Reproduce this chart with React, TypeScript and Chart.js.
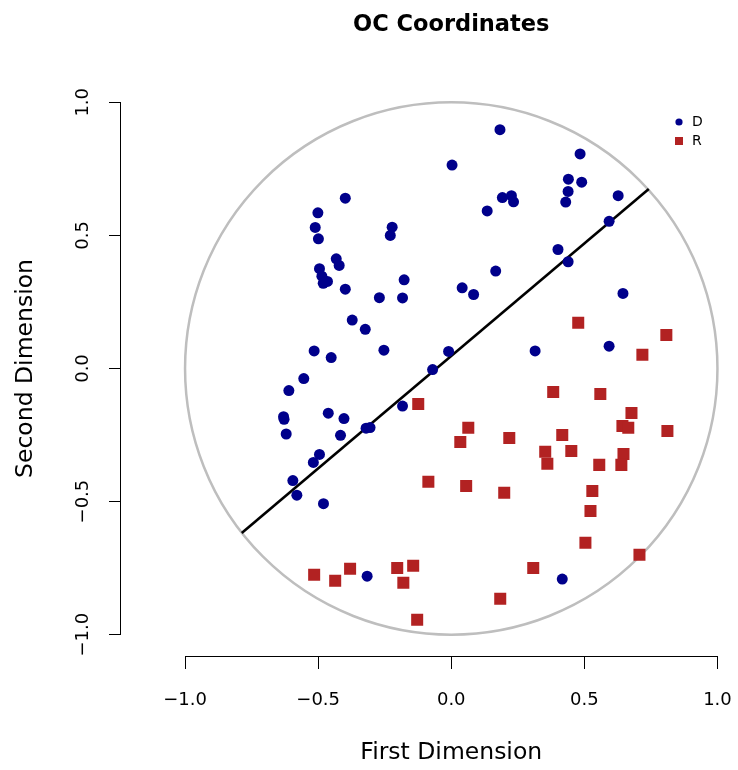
import { useEffect, useRef } from 'react';
import { Chart, registerables } from 'chart.js';

Chart.register(...registerables);

// ---- data ----
const D_X = [
  0.003, -0.398, -0.501, -0.511, -0.499, -0.222, -0.229, -0.432, -0.421, -0.495,
  -0.486, -0.481, -0.465, -0.398, -0.177, -0.270, -0.183, -0.372, -0.323, -0.253,
  -0.515, -0.451, -0.010, -0.070, -0.554, -0.610, -0.183, -0.630, -0.628, -0.462,
  -0.403, -0.620, -0.416, -0.320, -0.305, -0.495, -0.518, -0.595, -0.580, -0.480,
  0.183, 0.484, 0.440, 0.490, 0.439, 0.430, 0.192, 0.226, 0.234, 0.135,
  0.627, 0.593, 0.401, 0.439, 0.167, 0.041, 0.084, 0.645, 0.315, 0.593,
  0.417, -0.316,
];
const D_Y = [
  0.764, 0.640, 0.585, 0.530, 0.487, 0.531, 0.500, 0.412, 0.387, 0.375,
  0.347, 0.320, 0.327, 0.298, 0.333, 0.266, 0.265, 0.182, 0.147, 0.069,
  0.066, 0.041, 0.064, -0.004, -0.038, -0.083, -0.141, -0.181, -0.191, -0.168,
  -0.188, -0.246, -0.251, -0.224, -0.222, -0.323, -0.353, -0.421, -0.476, -0.508,
  0.897, 0.806, 0.711, 0.700, 0.665, 0.625, 0.642, 0.649, 0.626, 0.592,
  0.649, 0.553, 0.447, 0.401, 0.366, 0.303, 0.278, 0.282, 0.066, 0.084,
  -0.791, -0.780,
];
const R_X = [
  -0.124, -0.086, 0.477, 0.808, 0.718, 0.383, 0.560, 0.677, 0.643, 0.665,
  0.812, 0.064, 0.034, 0.218, 0.417, 0.353, 0.361, 0.451, 0.647, 0.556,
  0.639, 0.056, 0.199, 0.530, 0.523, 0.504, 0.707, 0.308, -0.515, -0.436,
  -0.380, -0.203, -0.143, -0.180, 0.184, -0.128,
];
const R_Y = [
  -0.133, -0.425, 0.172, 0.126, 0.052, -0.088, -0.096, -0.167, -0.216, -0.223,
  -0.235, -0.223, -0.276, -0.261, -0.250, -0.313, -0.358, -0.310, -0.321, -0.362,
  -0.362, -0.441, -0.467, -0.460, -0.535, -0.655, -0.700, -0.749, -0.775, -0.797,
  -0.752, -0.749, -0.741, -0.805, -0.865, -0.944,
];
const CUT_X = [-0.787, 0.742];
const CUT_Y = [-0.618, 0.674];
const X_TICKS = [-1, -0.5, 0, 0.5, 1];
const Y_TICKS = [-1, -0.5, 0, 0.5, 1];
const X_MIN = -1.2406; // left edge of the plot region (equal units with y)
const Y_MIN = -1.08;
const Y_MAX = 1.08;
const CIRCLE_R = 1;
const SERIES = ['D', 'R'];

const FONT = "'DejaVu Sans', 'Liberation Sans', sans-serif";
const BLUE = '#00008B';
const RED = '#B22222';

const fmt = (v: number) => (v < 0 ? '\u2212' : '') + Math.abs(v).toFixed(1);

const toPts = (xs: number[], ys: number[]) => xs.map((x, i) => ({ x, y: ys[i] }));

const decorPlugin = {
  id: 'decor',
  afterLayout(chart: any) {
    // equal aspect ratio: one x unit spans as many pixels as one y unit
    const x = chart.scales.x;
    const y = chart.scales.y;
    const pxPerUnit = (y.bottom - y.top) / (Y_MAX - Y_MIN);
    x.min = X_MIN;
    x.max = X_MIN + (x.right - x.left) / pxPerUnit;
    x.configure();
  },
  beforeDatasetsDraw(chart: any) {
    const { ctx, scales } = chart;
    const x = scales.x;
    const y = scales.y;
    const cx = x.getPixelForValue(0);
    const cy = y.getPixelForValue(0);
    const rx = x.getPixelForValue(CIRCLE_R) - cx;
    const ry = cy - y.getPixelForValue(CIRCLE_R);
    ctx.save();
    ctx.strokeStyle = '#BEBEBE';
    ctx.lineWidth = 2.5;
    ctx.beginPath();
    ctx.ellipse(cx, cy, rx, ry, 0, 0, Math.PI * 2);
    ctx.stroke();
    ctx.restore();
  },
  afterDraw(chart: any) {
    const { ctx, scales, chartArea } = chart;
    const x = scales.x;
    const y = scales.y;
    ctx.save();
    // axis lines spanning first to last tick
    ctx.strokeStyle = '#000';
    ctx.lineWidth = 1;
    ctx.beginPath();
    const by = Math.round(chartArea.bottom) + 0.5;
    ctx.moveTo(x.getPixelForValue(X_TICKS[0]), by);
    ctx.lineTo(x.getPixelForValue(X_TICKS[X_TICKS.length - 1]), by);
    const lx = Math.round(chartArea.left) - 0.5;
    ctx.moveTo(lx, y.getPixelForValue(Y_TICKS[0]));
    ctx.lineTo(lx, y.getPixelForValue(Y_TICKS[Y_TICKS.length - 1]));
    ctx.stroke();

    const cx = x.getPixelForValue(0);
    ctx.fillStyle = '#000';
    ctx.textAlign = 'center';
    ctx.textBaseline = 'alphabetic';
    ctx.font = `bold 22.5px ${FONT}`;
    ctx.fillText('OC Coordinates', cx, 30.5);
    ctx.font = `23.5px ${FONT}`;
    ctx.fillText('First Dimension', cx, 759);

    // legend (top right)
    const lgX = chart.width - 59;
    const lgY = chartArea.top + 41;
    const ds = chart.data.datasets;
    ctx.textAlign = 'left';
    ctx.textBaseline = 'middle';
    ctx.font = `14px ${FONT}`;
    ctx.fillStyle = ds[0].backgroundColor;
    ctx.beginPath();
    ctx.arc(lgX, lgY, 3.6, 0, Math.PI * 2);
    ctx.fill();
    ctx.fillStyle = ds[1].backgroundColor;
    ctx.fillRect(lgX - 4, lgY + 19 - 4, 8, 8);
    ctx.fillStyle = '#000';
    ctx.fillText(ds[0].label, lgX + 13, lgY + 0.5);
    ctx.fillText(ds[1].label, lgX + 13, lgY + 19.5);
    ctx.restore();
  },
};

export default function App() {
  const ref = useRef<HTMLCanvasElement>(null);
  useEffect(() => {
    document.body.style.margin = '0';
    Chart.defaults.font.family = FONT;
    const chart = new Chart(ref.current as HTMLCanvasElement, {
      type: 'scatter',
      data: {
        datasets: [
          {
            label: SERIES[0],
            data: toPts(D_X, D_Y),
            backgroundColor: BLUE,
            borderColor: BLUE,
            borderWidth: 0,
            pointStyle: 'circle',
            pointRadius: 5.5,
          },
          {
            label: SERIES[1],
            data: toPts(R_X, R_Y),
            backgroundColor: RED,
            borderColor: RED,
            borderWidth: 0,
            pointStyle: 'rect',
            pointRadius: 8.5,
          },
          {
            label: 'cut',
            data: toPts(CUT_X, CUT_Y),
            showLine: true,
            borderColor: '#000',
            backgroundColor: '#000',
            borderWidth: 2.6,
            pointRadius: 0,
          } as any,
        ],
      },
      options: {
        animation: false,
        responsive: true,
        maintainAspectRatio: false,
        events: [],
        layout: { padding: { top: 81, left: 0, right: 0, bottom: 0 } },
        plugins: {
          legend: { display: false },
          title: { display: false },
          tooltip: { enabled: false },
        },
        scales: {
          x: {
            type: 'linear',
            position: 'bottom',
            min: X_MIN,
            max: 1.0789,
            afterBuildTicks: (s: any) => {
              s.ticks = X_TICKS.map((v) => ({ value: v }));
            },
            afterFit: (s: any) => {
              s.height = 114;
              s.paddingLeft = 0;
              s.paddingRight = 0;
            },
            grid: {
              display: true,
              drawOnChartArea: false,
              drawTicks: true,
              tickLength: 13,
              color: '#000',
              tickColor: '#000',
              lineWidth: 1,
            },
            border: { display: false },
            ticks: {
              autoSkip: false,
              maxRotation: 0,
              minRotation: 0,
              padding: 21,
              color: '#000',
              font: { family: FONT, size: 18 },
              callback: (v: any) => fmt(Number(v)),
            },
          },
          y: {
            type: 'linear',
            position: 'left',
            min: Y_MIN,
            max: Y_MAX,
            afterBuildTicks: (s: any) => {
              s.ticks = Y_TICKS.map((v) => ({ value: v }));
            },
            afterFit: (s: any) => {
              s.width = 121;
              s.paddingTop = 0;
              s.paddingBottom = 0;
            },
            grid: {
              display: true,
              drawOnChartArea: false,
              drawTicks: true,
              tickLength: 12,
              color: '#000',
              tickColor: '#000',
              lineWidth: 1,
            },
            border: { display: false },
            ticks: {
              autoSkip: false,
              minRotation: 90,
              maxRotation: 90,
              crossAlign: 'center',
              padding: 4,
              color: '#000',
              font: { family: FONT, size: 18 },
              callback: (v: any) => fmt(Number(v)),
            },
            title: {
              display: true,
              text: 'Second Dimension',
              color: '#000',
              font: { family: FONT, size: 23.5 },
              padding: { top: 12, bottom: 0 },
            },
          },
        },
      },
      plugins: [decorPlugin],
    } as any);
    return () => chart.destroy();
  }, []);
  return (
    <div style={{ width: 738, height: 770, position: 'relative' }}>
      <canvas ref={ref} />
    </div>
  );
}
